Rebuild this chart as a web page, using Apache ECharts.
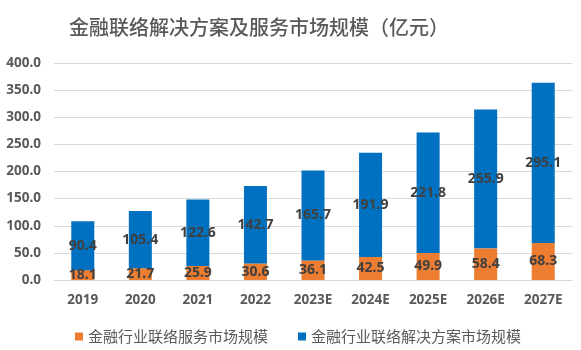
<!DOCTYPE html>
<html><head><meta charset="utf-8">
<script src="https://cdn.jsdelivr.net/npm/echarts@6/dist/echarts.min.js"></script>
<style>html,body{margin:0;padding:0;background:#fff}#c{width:581px;height:350px}</style>
</head><body><div id="c"></div>
<script>
const categories = ['2019','2020','2021','2022','2023E','2024E','2025E','2026E','2027E'];
const serviceValues = [18.1, 21.7, 25.9, 30.6, 36.1, 42.5, 49.9, 58.4, 68.3];
const solutionValues = [90.4, 105.4, 122.6, 142.7, 165.7, 191.9, 221.8, 255.9, 295.1];
const seriesNames = ['金融行业联络服务市场规模', '金融行业联络解决方案市场规模'];
const titleText = '金融联络解决方案及服务市场规模（亿元）';

const chart = echarts.init(document.getElementById('c'));
const labelStyle = {show: true, position: 'inside', color: '#404040', fontSize: 14, fontWeight: 'bold', fontFamily: 'Noto Sans', formatter: p => p.value.toFixed(1)};
chart.setOption({
  animation: false,
  title: {text: titleText, left: 64, top: 12, textStyle: {fontFamily: 'Noto Sans CJK SC', fontSize: 20, fontWeight: 500, color: '#595959'}},
  legend: {left: 70, top: 324, itemWidth: 8, itemHeight: 8, itemGap: 30, icon: 'rect',
    textStyle: {fontFamily: 'Noto Sans CJK SC', fontSize: 15, color: '#595959'},
    data: seriesNames},
  grid: {left: 54, right: 9, top: 63, bottom: 70},
  xAxis: {type: 'category', data: categories,
    axisLine: {lineStyle: {color: '#D9D9D9'}}, axisTick: {show: false},
    axisLabel: {color: '#595959', fontSize: 13.5, fontWeight: 'bold', fontFamily: 'Noto Sans', margin: 13}},
  yAxis: {type: 'value', min: 0, max: 400, interval: 50,
    axisLine: {show: false}, axisTick: {show: false},
    splitLine: {lineStyle: {color: '#D9D9D9'}},
    axisLabel: {color: '#595959', fontSize: 13.5, fontWeight: 'bold', fontFamily: 'Noto Sans', margin: 13, formatter: v => v.toFixed(1)}},
  series: [
    {name: seriesNames[0], type: 'bar', stack: 'a', data: serviceValues, barWidth: '40%', itemStyle: {color: '#ED7D31'}, label: labelStyle},
    {name: seriesNames[1], type: 'bar', stack: 'a', data: solutionValues, barWidth: '40%', itemStyle: {color: '#0070C0'}, label: labelStyle}
  ]
});
</script></body></html>
